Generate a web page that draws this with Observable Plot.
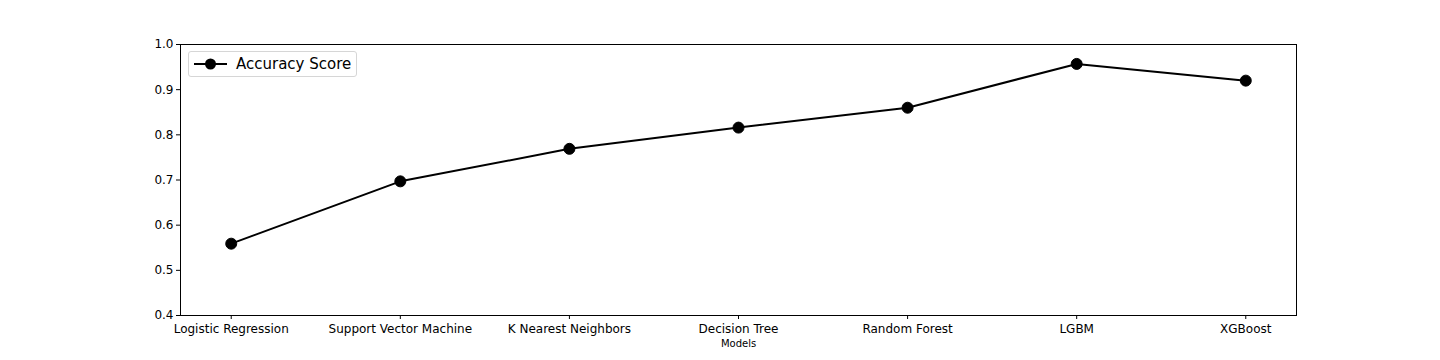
<!DOCTYPE html>
<html>
<head>
<meta charset="utf-8">
<script src="https://cdn.jsdelivr.net/npm/d3@7"></script>
<script src="https://cdn.jsdelivr.net/npm/@observablehq/plot@0.6"></script>
<style>
  html, body { margin: 0; padding: 0; background: #fff; }
  #wrap { position: relative; width: 1440px; height: 360px; font-family: "DejaVu Sans", sans-serif; }
  #legend { position: absolute; left: 188px; top: 51px; width: 169px; height: 26px; border: 1px solid #d6d6d6; border-radius: 3px; background: rgba(255,255,255,0.8); box-sizing: border-box; }
  #legend svg { position: absolute; left: 5px; top: 3px; }
  #legend span { position: absolute; left: 47px; top: 3px; font-size: 15px; color: #000; white-space: nowrap; }
</style>
</head>
<body>
<div id="wrap"></div>
<script>
const models = ["Logistic Regression", "Support Vector Machine", "K Nearest Neighbors", "Decision Tree", "Random Forest", "LGBM", "XGBoost"];
const accuracy = [0.559, 0.697, 0.769, 0.816, 0.860, 0.957, 0.920];
const yTicks = [0.4, 0.5, 0.6, 0.7, 0.8, 0.9, 1.0];
const seriesName = "Accuracy Score";
const xLabel = "Models";

const data = models.map((m, i) => ({i, model: m, acc: accuracy[i]}));

const chart = Plot.plot({
  width: 1440,
  height: 360,
  marginLeft: 180,
  marginRight: 144,
  marginTop: 44,
  marginBottom: 45,
  style: {fontFamily: "DejaVu Sans, sans-serif", fontSize: "12px", background: "#fff", color: "#000"},
  x: {type: "linear", domain: [-0.3, 6.3]},
  y: {domain: [0.4, 1.0]},
  marks: [
    Plot.frame({stroke: "#000", strokeWidth: 1}),
    Plot.axisY({ticks: yTicks, tickFormat: d => d.toFixed(1), tickSize: 4, tickPadding: 3, label: null, fontSize: 12}),
    Plot.axisX({ticks: d3.range(models.length), tickFormat: i => models[i], tickSize: 4, tickPadding: 5, label: null, fontSize: 12}),
    Plot.text([xLabel], {frameAnchor: "bottom", text: d => d, dy: 31, fontSize: 10}),
    Plot.line(data, {x: "i", y: "acc", stroke: "#000", strokeWidth: 2}),
    Plot.dot(data, {x: "i", y: "acc", r: 5.5, fill: "#000", stroke: "#000", strokeWidth: 1})
  ]
});

const wrap = document.getElementById("wrap");
wrap.appendChild(chart);
const legend = document.createElement("div");
legend.id = "legend";
legend.innerHTML = `<svg width="34" height="18"><line x1="0" y1="9" x2="33" y2="9" stroke="#000" stroke-width="2"/><circle cx="16.5" cy="9" r="5.5" fill="#000"/></svg><span>${seriesName}</span>`;
wrap.appendChild(legend);
</script>
</body>
</html>
